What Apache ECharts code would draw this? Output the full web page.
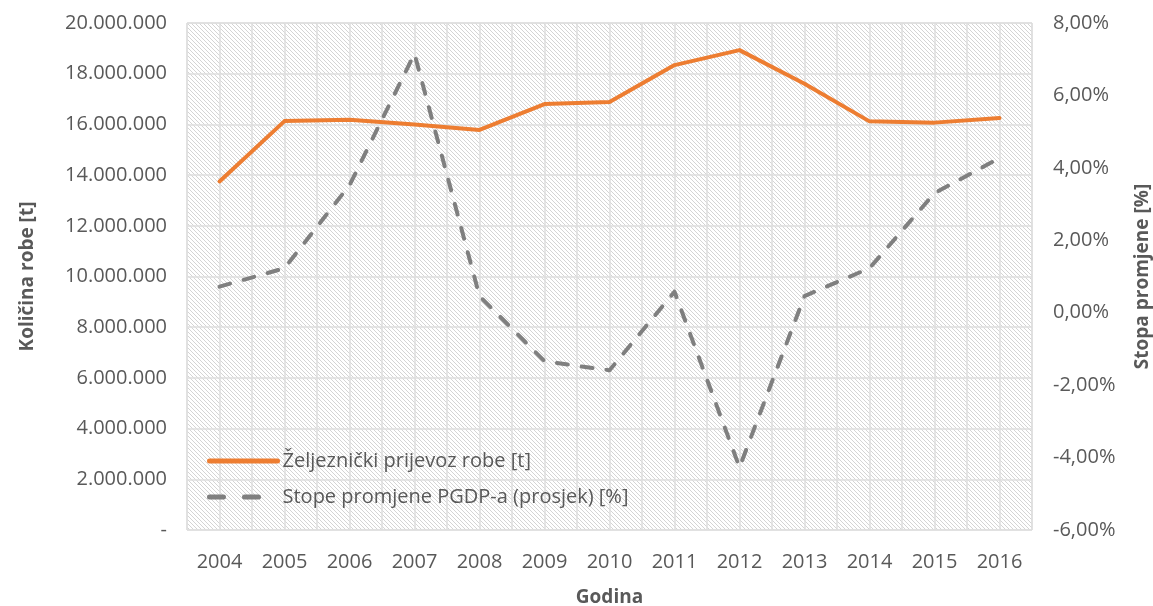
<!DOCTYPE html>
<html>
<head>
  <meta charset="utf-8">
  <title>Prijevoz robe</title>
  <script src="https://cdn.jsdelivr.net/npm/echarts@6/dist/echarts.min.js"></script>
  <style>
    html, body { margin: 0; padding: 0; background: #fff; }
    #chart { width: 1153px; height: 606px; }
  </style>
</head>
<body>
<div id="chart"></div>
<script>
  var godine = ['2004', '2005', '2006', '2007', '2008', '2009', '2010', '2011', '2012', '2013', '2014', '2015', '2016'];
  var prijevozRobe = [13750000, 16130000, 16180000, 16000000, 15780000, 16800000, 16880000, 18340000, 18930000, 17600000, 16120000, 16070000, 16250000];
  var stopePgdp = [0.72, 1.23, 3.52, 7.15, 0.46, -1.34, -1.59, 0.58, -4.27, 0.46, 1.23, 3.3, 4.27];

  // diagonal hatch for the plot area
  var tile = document.createElement('canvas');
  tile.width = 4;
  tile.height = 4;
  var tctx = tile.getContext('2d');
  tctx.fillStyle = '#ffffff';
  tctx.fillRect(0, 0, 4, 4);
  tctx.fillStyle = '#d4d4d4';
  for (var i = 0; i < 4; i++) {
    tctx.fillRect(i, i, 1, 1);
  }

  var labelColor = '#595959';
  var font = '"Open Sans", "Noto Sans", sans-serif';

  function tocke(v) {
    if (v === 0) return '-';
    return String(v).replace(/\B(?=(\d{3})+(?!\d))/g, '.');
  }

  var chart = echarts.init(document.getElementById('chart'));
  chart.setOption({
    animation: false,
    textStyle: { fontFamily: font },
    grid: {
      left: 187, right: 121, top: 23, bottom: 76,
      outerBoundsMode: 'none',
      containLabel: false,
      show: true,
      backgroundColor: { image: tile, repeat: 'repeat' },
      borderColor: '#d9d9d9',
      borderWidth: 1
    },
    legend: {
      orient: 'vertical',
      left: 202,
      top: 446,
      itemWidth: 68,
      itemHeight: 14,
      itemGap: 16,
      itemStyle: { opacity: 0 },
      textStyle: { color: labelColor, fontSize: 20, fontFamily: font },
      data: [{
        name: 'Željeznički prijevoz robe [t]',
        lineStyle: { color: '#ED7D31', width: 5, cap: 'round' }
      }, {
        name: 'Stope promjene PGDP-a (prosjek) [%]',
        lineStyle: { color: '#7F7F7F', width: 5, type: [14, 21], cap: 'round' }
      }]
    },
    xAxis: [{
      type: 'category',
      data: godine,
      name: 'Godina',
      nameLocation: 'middle',
      nameGap: 58,
      nameTextStyle: { color: labelColor, fontSize: 19, fontWeight: 'bold' },
      axisLine: { show: false },
      axisTick: { show: false },
      axisLabel: { color: labelColor, fontSize: 20, margin: 22 },
      splitLine: { show: false }
    }, {
      type: 'value',
      min: -0.5,
      max: 12.5,
      interval: 0.5,
      show: true,
      axisLine: { show: false },
      axisTick: { show: false },
      axisLabel: { show: false },
      splitLine: { show: true, lineStyle: { color: '#dedede', width: 1.5 } }
    }],
    yAxis: [{
      type: 'value',
      min: 0,
      max: 20000000,
      interval: 2000000,
      name: 'Količina robe [t]',
      nameLocation: 'middle',
      nameGap: 150,
      nameRotate: 90,
      nameTextStyle: { color: labelColor, fontSize: 19, fontWeight: 'bold' },
      axisLine: { show: false },
      axisTick: { show: false },
      axisLabel: { color: labelColor, fontSize: 20, margin: 20, formatter: tocke },
      splitLine: { show: true, lineStyle: { color: '#dedede', width: 1.5 } }
    }, {
      type: 'value',
      min: -6,
      max: 8,
      interval: 2,
      position: 'right',
      name: 'Stopa promjene [%]',
      nameLocation: 'middle',
      nameGap: 101,
      nameRotate: 90,
      nameTextStyle: { color: labelColor, fontSize: 19, fontWeight: 'bold' },
      axisLine: { show: false },
      axisTick: { show: false },
      axisLabel: {
        color: labelColor, fontSize: 20, margin: 21,
        formatter: function (v) { return v.toFixed(2).replace('.', ',') + '%'; }
      },
      splitLine: { show: false }
    }],
    series: [{
      name: 'Željeznički prijevoz robe [t]',
      type: 'line',
      xAxisIndex: 0,
      yAxisIndex: 0,
      data: prijevozRobe,
      symbol: 'none',
      lineStyle: { color: '#ED7D31', width: 4, cap: 'round', join: 'round' },
      itemStyle: { color: '#ED7D31' }
    }, {
      name: 'Stope promjene PGDP-a (prosjek) [%]',
      type: 'line',
      xAxisIndex: 0,
      yAxisIndex: 1,
      data: stopePgdp,
      symbol: 'none',
      lineStyle: { color: '#7F7F7F', width: 4, type: [11, 14], cap: 'round', join: 'round' },
      itemStyle: { color: '#7F7F7F' }
    }]
  });
</script>
</body>
</html>
